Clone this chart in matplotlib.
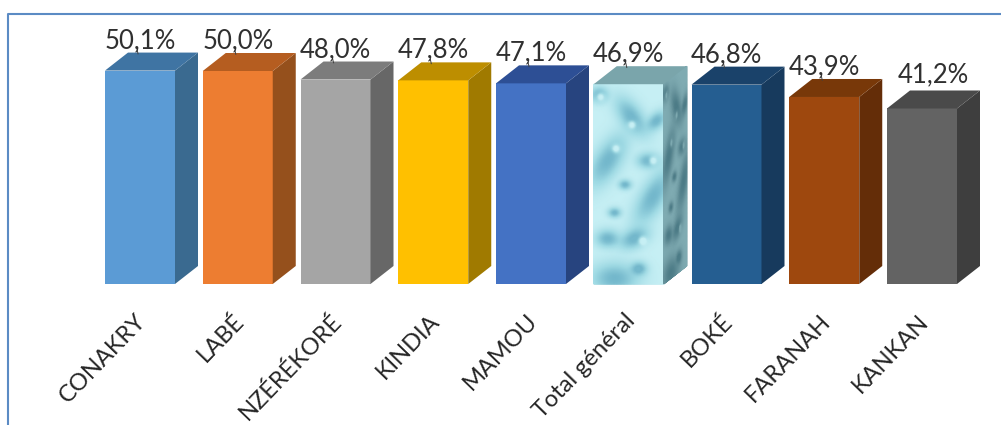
import matplotlib
matplotlib.use('Agg')
import matplotlib.pyplot as plt
import matplotlib.lines as mlines
from matplotlib.colors import LinearSegmentedColormap
import numpy as np

plt.rcParams['font.family'] = ['Lato', 'DejaVu Sans']

categories = ['CONAKRY', 'LABÉ', 'NZÉRÉKORÉ', 'KINDIA', 'MAMOU',
              'Total général', 'BOKÉ', 'FARANAH', 'KANKAN']
values = [50.1, 50.0, 48.0, 47.8, 47.1, 46.9, 46.8, 43.9, 41.2]
front_colors = ['#5b9bd5', '#ed7d31', '#a5a5a5', '#ffc000', '#4472c4',
                '#b8e8ef', '#255e91', '#9e480e', '#636363']
side_colors = ['#3a6a90', '#95501c', '#676767', '#a07a00', '#27447f',
               '#6f9ea6', '#173a5d', '#642d08', '#3e3e3e']
top_colors = ['#3f74a3', '#b55d20', '#7c7c7c', '#bd8e00', '#2d4f95',
              '#7aa5ab', '#1a426a', '#783809', '#4a4a4a']

# water drops of the textured bar: x, y, x size, y size, tilt (0-1 in the bar)
drops_x = [0.20, 0.54, 0.30, 0.85, 0.58, 0.20, 0.78, 0.08, 0.45, 0.30, 0.65, 0.90]
drops_y = [0.62, 0.84, 0.03, 0.44, 0.23, 0.23, 0.62, 0.95, 0.50, 0.36, 0.08, 0.82]
drops_sx = [0.24, 0.20, 0.30, 0.24, 0.18, 0.15, 0.14, 0.11, 0.08, 0.08, 0.10, 0.12]
drops_sy = [0.09, 0.07, 0.07, 0.09, 0.045, 0.04, 0.035, 0.035, 0.022, 0.022, 0.03, 0.04]
drops_tilt = [0.6, -0.5, 0.0, 0.7, 0.2, 0.0, 0.0, 0.0, 0.0, 0.0, 0.0, 0.3]

# pale glints on the drops
glints_x = [0.32, 0.85, 0.70, 0.10, 0.55]
glints_y = [0.68, 0.62, 0.22, 0.94, 0.80]

PX_X = 97.75    # pixels per category
PX_Y = 4.26     # pixels per percent
BAR_W = 70 / PX_X
DX = 23 / PX_X
DY = 18 / PX_Y


def water_field(n=120):
    u, v = np.meshgrid(np.linspace(0, 1, n), np.linspace(0, 1, n * 3))
    field = np.zeros_like(u)
    for x, y, sx, sy, tilt in zip(drops_x, drops_y, drops_sx, drops_sy, drops_tilt):
        du = u - x
        dv = v - y - tilt * du * 0.5
        field += np.exp(-(du / sx) ** 2 - (dv / sy) ** 2)
    field = np.clip(field, 0, 1) ** 0.8
    for x, y in zip(glints_x, glints_y):
        field -= 1.2 * np.exp(-((u - x) / 0.05) ** 2 - ((v - y) / 0.018) ** 2)
    return u, v, np.clip(field, 0, 1)


fig = plt.figure(figsize=(10.01, 4.25), dpi=100, facecolor='white')
ax = fig.add_axes([0, 0, 1, 1])
ax.set_xlim(-140 / PX_X, (1001 - 140) / PX_X)
ax.set_ylim(-(425 - 284) / PX_Y, 284 / PX_Y)
ax.axis('off')

water_front = LinearSegmentedColormap.from_list('wf', ['#c6eff4', '#9fdae4', '#74b8cc'])
water_side = LinearSegmentedColormap.from_list('ws', ['#7fabb2', '#66929b', '#4d7c87'])

x_pos = np.arange(len(categories))
for i in x_pos:
    val = values[i]
    left = i - BAR_W / 2
    right = i + BAR_W / 2

    if categories[i] == 'Total général':
        u, v, field = water_field()
        ax.pcolormesh(left + u * BAR_W, v * val, field, cmap=water_front,
                      vmin=0, vmax=1, shading='gouraud', zorder=2)
        ax.pcolormesh(right + u * DX, v * val + u * DY, field, cmap=water_side,
                      vmin=0, vmax=1, shading='gouraud', zorder=2)
    else:
        ax.bar(i, val, width=BAR_W, color=front_colors[i], zorder=2)
        ax.fill([right, right + DX, right + DX, right],
                [0, DY, val + DY, val], color=side_colors[i], lw=0, zorder=2)
    ax.fill([left, right, right + DX, left + DX],
            [val, val, val + DY, val + DY], color=top_colors[i], lw=0, zorder=2)

    label_x = i
    label_y = val + DY - 0.1
    if categories[i] == 'KANKAN':
        # this label was moved by hand in the original
        label_x += 11 / PX_X
        label_y += 4 / PX_Y
    else:
        # small leader line between the label and the bar
        ax.plot([i - 0.02, i - 0.03], [val + DY - 0.3, val + DY + 0.7],
                color='#404040', lw=0.7, zorder=3)
    ax.text(label_x, label_y, f'{val:.1f}%'.replace('.', ','), ha='center',
            va='bottom', fontsize=18.5, color='#303030', zorder=4)
    ax.text(i - 0.05, -6.2, categories[i], rotation=46, rotation_mode='anchor',
            ha='right', va='top', fontsize=17, color='#262626')

# frame of the pasted picture: only top and left are visible
frame_x = [7.5 / 1001, 7.5 / 1001, 1]
frame_y = [0, 1 - 13.5 / 425, 1 - 13.5 / 425]
fig.add_artist(mlines.Line2D(frame_x, frame_y, color='#5b8bc4', lw=1.5))

fig.savefig('out.png', dpi=100)
